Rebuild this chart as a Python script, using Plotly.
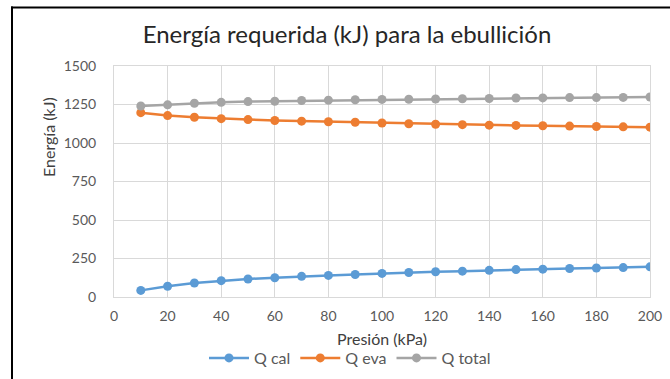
import plotly.graph_objects as go

presion = [10, 20, 30, 40, 50, 60, 70, 80, 90, 100,
           110, 120, 130, 140, 150, 160, 170, 180, 190, 200]
q_cal = [43, 70, 91, 106, 117, 125, 134, 140, 146, 153,
         159, 164, 168, 173, 178, 181, 185, 188, 191, 196]
q_eva = [1197, 1178, 1167, 1158, 1152, 1146, 1142, 1138, 1135, 1130,
         1125, 1122, 1119, 1116, 1114, 1112, 1110, 1107, 1105, 1103]
q_total = [1240, 1248, 1258, 1264, 1269, 1271, 1276, 1278, 1281, 1283,
           1284, 1286, 1287, 1289, 1292, 1293, 1295, 1295, 1296, 1299]

series = [("Q cal", q_cal, "#5B9BD5"),
          ("Q eva", q_eva, "#ED7D31"),
          ("Q total", q_total, "#A5A5A5")]

FONT = "Lato, 'Open Sans', sans-serif"

fig = go.Figure()
for name, vals, col in series:
    fig.add_trace(go.Scatter(
        x=presion, y=vals, name=name, mode="lines+markers",
        line=dict(color=col, width=2.5),
        marker=dict(color=col, size=9),
    ))

W, H = 670, 379
L, R, T, B = 114, 20, 66, 82
pw, ph = W - L - R, H - T - B

def px(x):
    return (x - L) / pw

def py(y):
    return (H - B - y) / ph

border = [
    dict(type="rect", xref="paper", yref="paper",
         x0=px(11), x1=px(670), y0=py(8.5), y1=py(6.5),
         fillcolor="black", line=dict(width=0), layer="above"),
    dict(type="rect", xref="paper", yref="paper",
         x0=px(11), x1=px(13), y0=py(379), y1=py(6.5),
         fillcolor="black", line=dict(width=0), layer="above"),
]

fig.update_layout(
    width=W, height=H,
    paper_bgcolor="white", plot_bgcolor="white",
    margin=dict(l=L, r=R, t=T, b=B, autoexpand=False),
    font=dict(family=FONT, color="#595959", size=14),
    title=dict(text="Energía requerida (kJ) para la ebullición",
               x=347 / W, xanchor="center", y=1 - 35 / H, yanchor="middle",
               font=dict(family=FONT, size=24, color="#262626")),
    xaxis=dict(range=[0, 200], dtick=20, tick0=0,
               showgrid=True, gridcolor="#D9D9D9", gridwidth=1,
               showline=True, linecolor="#D9D9D9", linewidth=1, mirror=True,
               zeroline=False, ticks="", ticklen=0, automargin=False,
               ticklabelstandoff=6,
               tickfont=dict(size=14, color="#595959")),
    yaxis=dict(range=[0, 1500], dtick=250, tick0=0,
               showgrid=True, gridcolor="#D9D9D9", gridwidth=1,
               showline=True, linecolor="#D9D9D9", linewidth=1, mirror=True,
               zeroline=False, ticks="", ticklen=0, automargin=False,
               ticklabelstandoff=14,
               tickfont=dict(size=14, color="#595959")),
    annotations=[
        dict(text="Presión (kPa)", xref="paper", yref="paper",
             x=px(382), y=py(338), xanchor="center", yanchor="middle",
             showarrow=False, font=dict(size=16, color="#404040")),
        dict(text="Energía (kJ)", xref="paper", yref="paper",
             x=px(48), y=py(137), xanchor="center", yanchor="middle",
             textangle=-90, showarrow=False,
             font=dict(size=16, color="#404040")),
    ],
    legend=dict(orientation="h", x=px(350), xanchor="center",
                y=py(358), yanchor="middle",
                font=dict(size=16, color="#595959"),
                bgcolor="rgba(0,0,0,0)", itemwidth=40),
    shapes=border,
)

fig.write_html("out.html", config={"displayModeBar": False},
               post_script="document.body.style.margin='0';")
